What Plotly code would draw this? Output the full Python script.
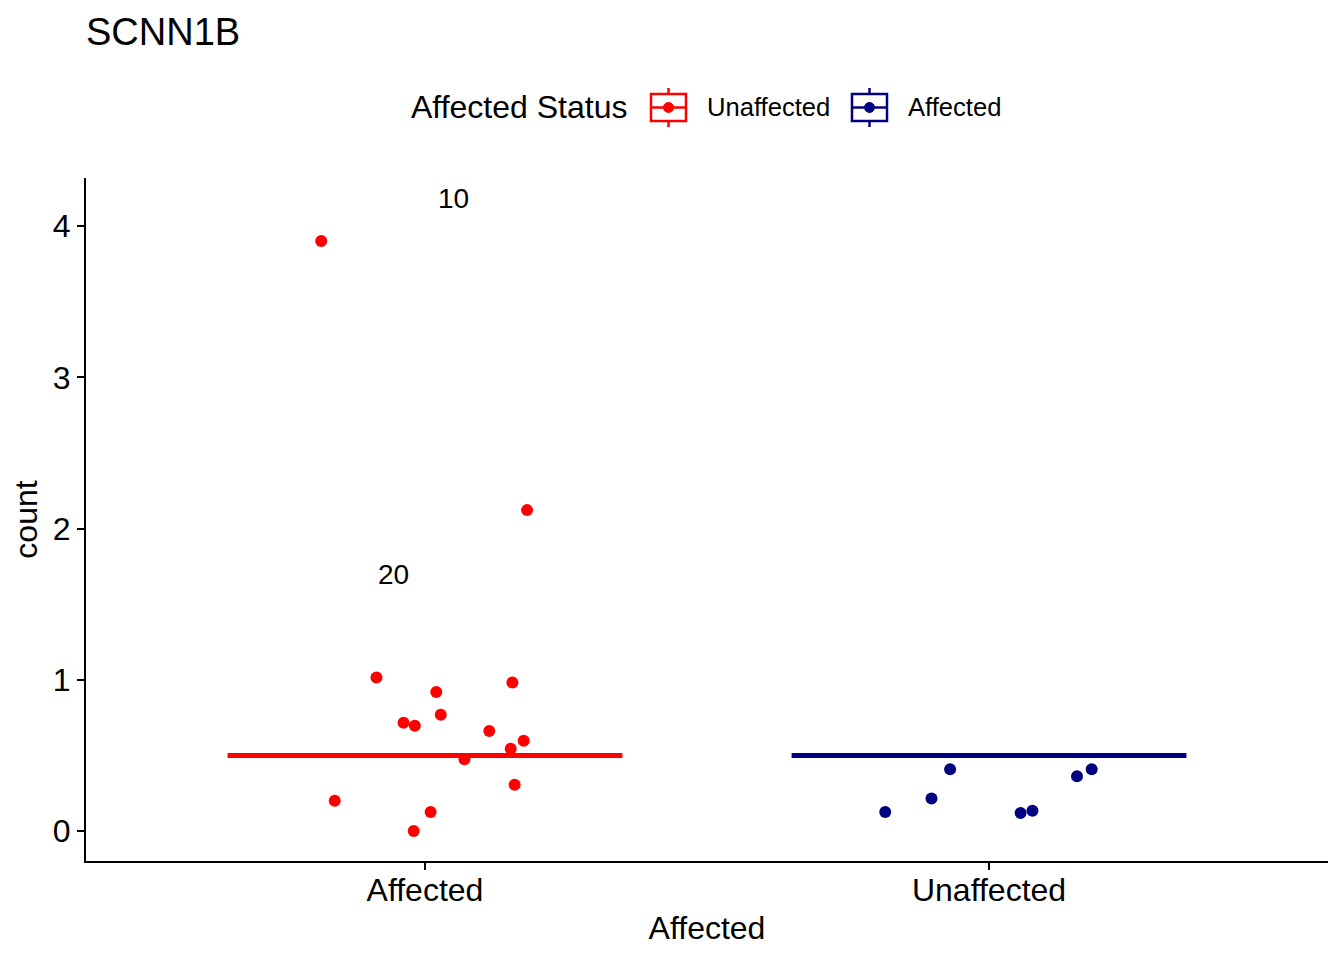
import plotly.graph_objects as go

# ---- data ----
categories = ["Affected", "Unaffected"]
cat_pos = [1, 2]

aff_x = [0.816, 1.181, 0.914, 1.020, 1.155, 0.962, 0.982, 1.028, 1.114, 1.175, 1.152, 1.070, 1.159, 0.840, 1.010, 0.980]
aff_y = [3.901, 2.122, 1.016, 0.919, 0.983, 0.716, 0.696, 0.769, 0.661, 0.597, 0.544, 0.474, 0.306, 0.200, 0.126, 0.0]

unaff_x = [1.816, 1.898, 1.931, 2.056, 2.077, 2.156, 2.182]
unaff_y = [0.126, 0.216, 0.408, 0.119, 0.134, 0.362, 0.408]

medians = [0.5, 0.5]
half_width = 0.35

label_text = ["10", "20"]
label_x = [1.051, 0.945]
label_y = [4.18, 1.694]

colors = ["#FF0000", "#000080"]
legend_labels = ["Unaffected", "Affected"]

FONT = "Liberation Sans, Arial, sans-serif"

fig = go.Figure()

# median lines
for pos, med, col in zip(cat_pos, medians, colors):
    fig.add_trace(go.Scatter(
        x=[pos - half_width, pos + half_width], y=[med, med],
        mode="lines", line=dict(color=col, width=5),
        showlegend=False, hoverinfo="skip"))

fig.add_trace(go.Scatter(x=aff_x, y=aff_y, mode="markers",
                         marker=dict(color=colors[0], size=12), showlegend=False))
fig.add_trace(go.Scatter(x=unaff_x, y=unaff_y, mode="markers",
                         marker=dict(color=colors[1], size=12), showlegend=False))

for t, x, y in zip(label_text, label_x, label_y):
    fig.add_annotation(x=x, y=y, text=t, showarrow=False, xref="x", yref="y",
                       font=dict(size=28, color="black", family=FONT))

# ---- layout geometry (page has an 8px body margin) ----
OFF = 8
W, H = 1344 - OFF, 960 - OFF
PL, PR, PT, PB = 86, 1328, 178, 861   # plot area in screen pixels
L, R, T, B = PL - OFF, OFF + W - PR, PT - OFF, OFF + H - PB
pw, ph = PR - PL, PB - PT

def px(x):
    return (x - PL) / pw

def py(y):
    return (PB - y) / ph

# title
fig.add_annotation(x=px(84), y=py(32), xref="paper", yref="paper", text="SCNN1B",
                   showarrow=False, xanchor="left", yanchor="middle",
                   font=dict(size=38, color="black", family=FONT))

# custom legend
fig.add_annotation(x=px(629), y=py(107), xref="paper", yref="paper", text="Affected Status",
                   showarrow=False, xanchor="right", yanchor="middle",
                   font=dict(size=32, color="black", family=FONT))
icon_x = [651, 852]
text_x = [705, 906]
for ix, tx, col, lab in zip(icon_x, text_x, colors, legend_labels):
    cx = ix + 17.5
    fig.add_shape(type="line", xref="paper", yref="paper",
                  x0=px(cx), x1=px(cx), y0=py(88), y1=py(127),
                  line=dict(color=col, width=2.5))
    fig.add_shape(type="rect", xref="paper", yref="paper",
                  x0=px(ix), x1=px(ix + 35), y0=py(94), y1=py(121),
                  fillcolor="white", line=dict(color=col, width=2.5))
    fig.add_shape(type="line", xref="paper", yref="paper",
                  x0=px(ix), x1=px(ix + 35), y0=py(107.5), y1=py(107.5),
                  line=dict(color=col, width=2.5))
    fig.add_shape(type="circle", xref="paper", yref="paper",
                  x0=px(cx - 5), x1=px(cx + 5), y0=py(102.5), y1=py(112.5),
                  fillcolor=col, line=dict(color=col, width=1))
    fig.add_annotation(x=px(tx), y=py(107), xref="paper", yref="paper", text=lab,
                       showarrow=False, xanchor="left", yanchor="middle",
                       font=dict(size=25.6, color="black", family=FONT))

fig.update_layout(
    width=W, height=H,
    margin=dict(l=L, r=R, t=T, b=B, pad=0),
    plot_bgcolor="white", paper_bgcolor="white",
    font=dict(family=FONT, color="black"),
    showlegend=False,
)

fig.update_xaxes(
    range=[0.399, 2.601], tickmode="array", tickvals=cat_pos, ticktext=categories,
    showgrid=False, zeroline=False, showline=True, linecolor="black", linewidth=2,
    ticks="outside", ticklen=7, tickwidth=2, tickcolor="black", ticklabelstandoff=-7,
    tickfont=dict(size=32, color="black", family=FONT),
    title=dict(text="Affected", font=dict(size=32, color="black", family=FONT), standoff=9),
)
fig.update_yaxes(
    range=[-0.198, 4.318], tickmode="array", tickvals=[0, 1, 2, 3, 4],
    ticktext=["0", "1", "2", "3", "4"],
    showgrid=False, zeroline=False, showline=True, linecolor="black", linewidth=2,
    ticks="outside", ticklen=7, tickwidth=2, tickcolor="black",
    tickfont=dict(size=32, color="black", family=FONT),
    title=dict(text="count", font=dict(size=32, color="black", family=FONT), standoff=8),
)

fig.write_html("out.html")
